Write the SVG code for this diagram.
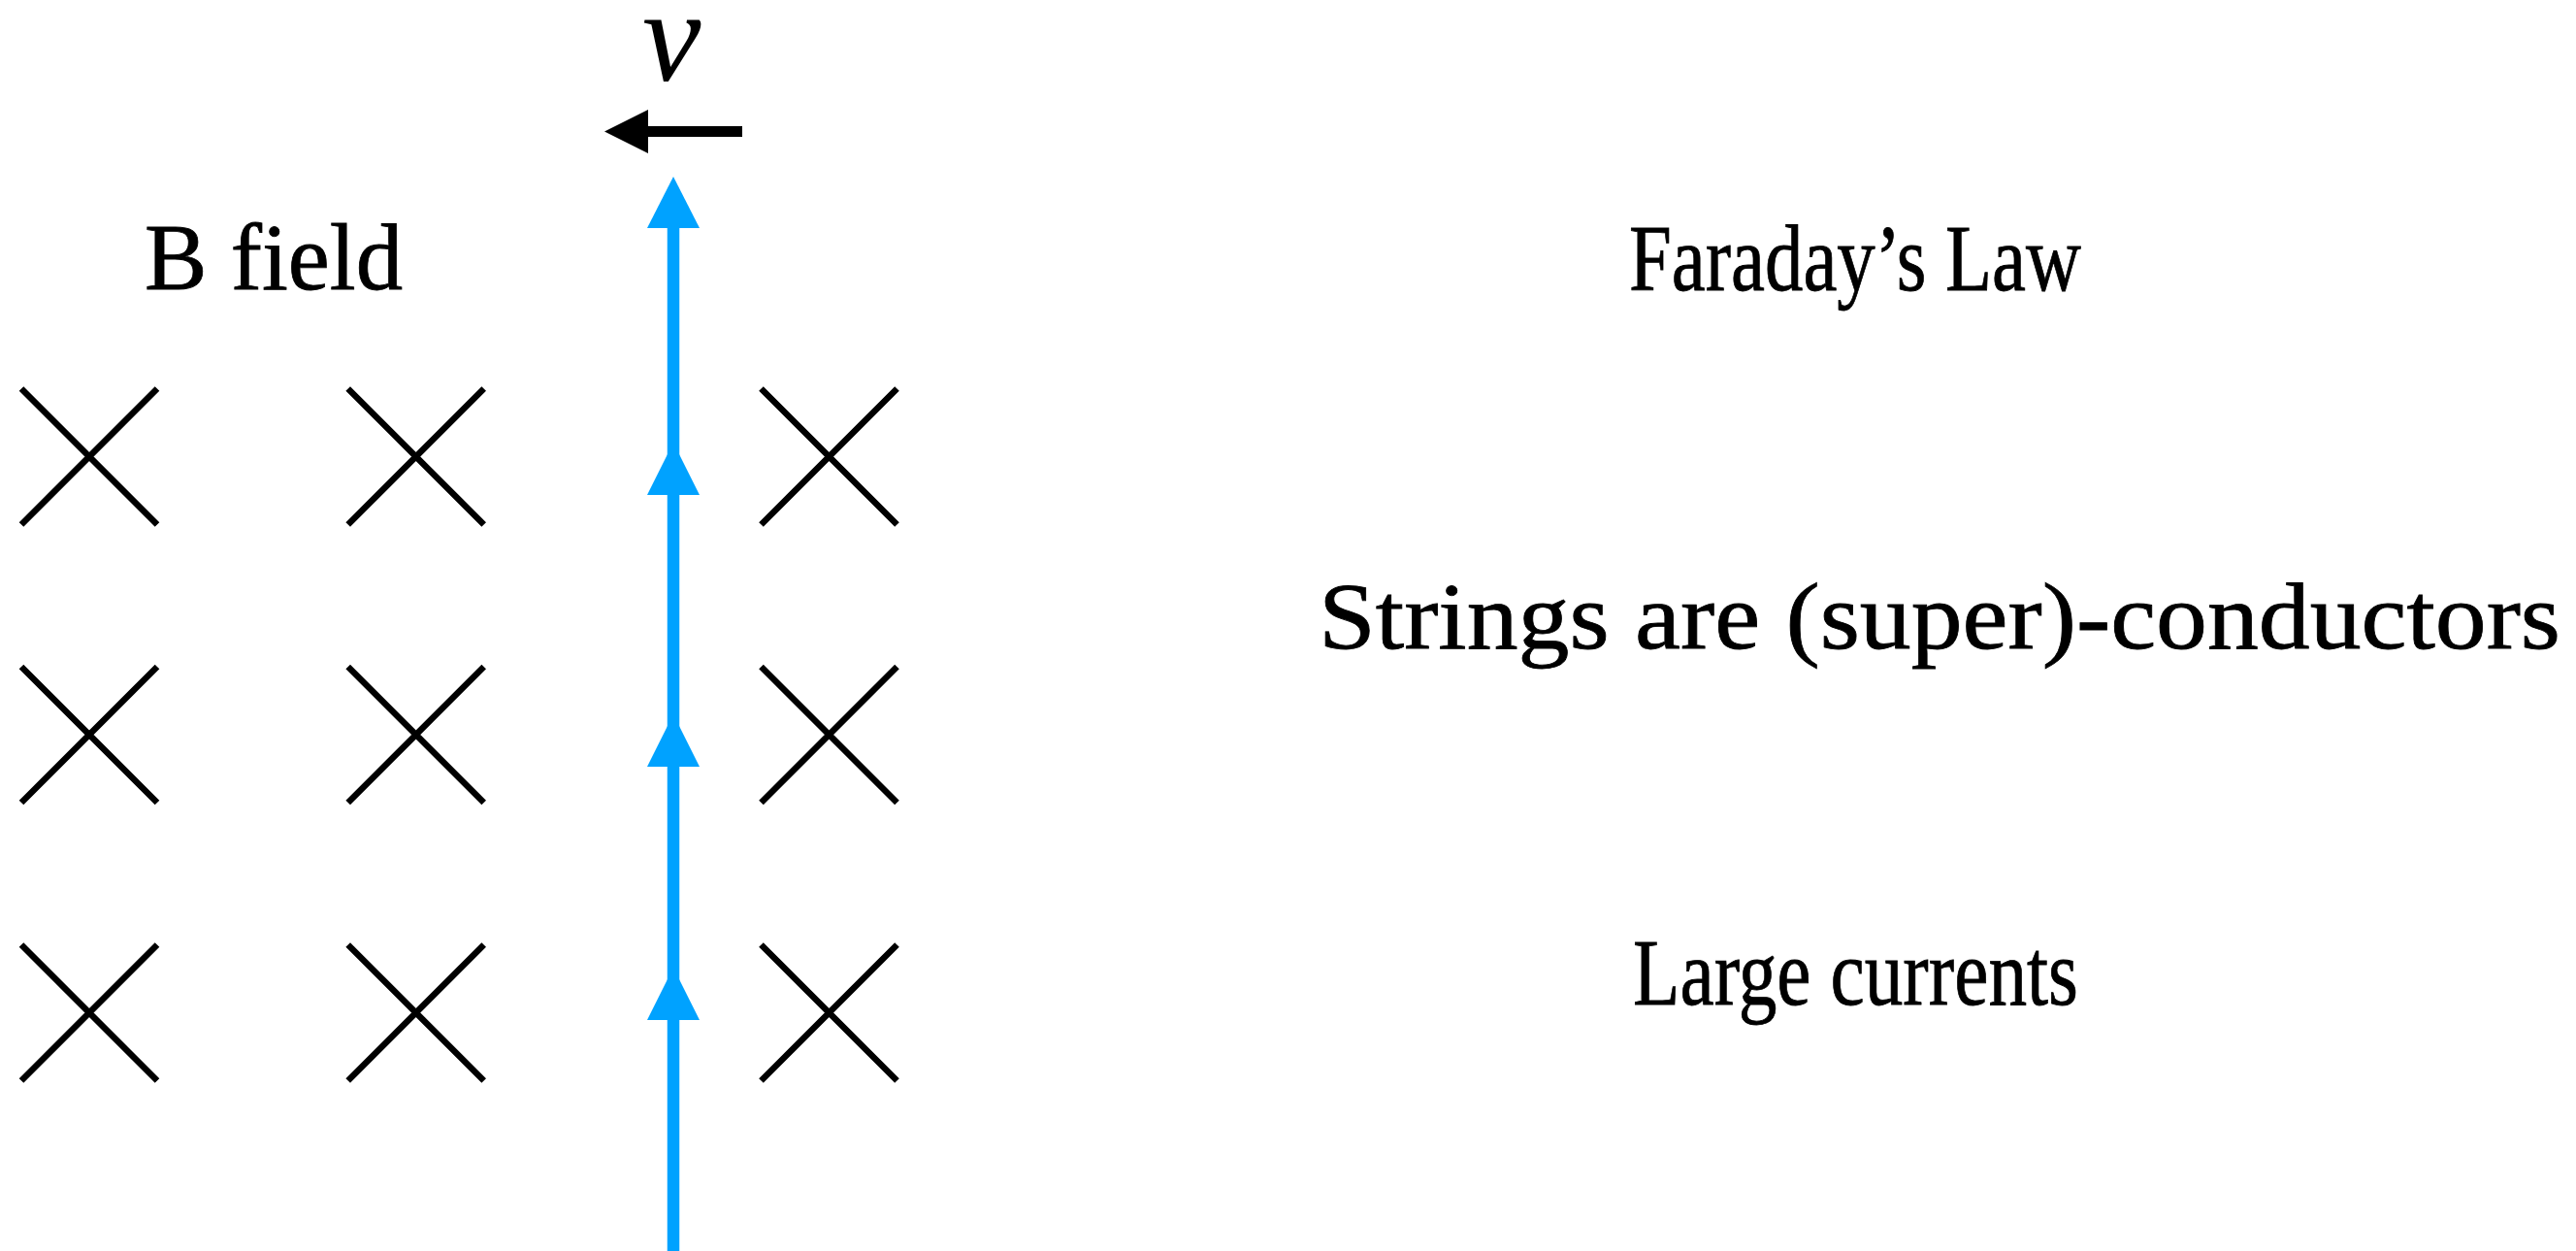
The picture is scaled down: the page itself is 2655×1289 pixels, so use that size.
<svg xmlns="http://www.w3.org/2000/svg" width="2655" height="1289" viewBox="0 0 2655 1289">
<style>
.lbl{font-family:"Liberation Serif","DejaVu Serif",serif;font-size:98px;fill:#000;stroke:#000;stroke-width:0.8}
.x{stroke:#000;stroke-width:6.5;fill:none}
.wire{stroke:#00A2FF;stroke-width:12.5;fill:none}
.head{fill:#00A2FF}
</style>
<defs>
<g id="cross"><path class="x" d="M-70,-70L70,70M70,-70L-70,70"/></g>
</defs>
<rect width="2655" height="1289" fill="#fff"/>
<g id="field">
<use href="#cross" x="92" y="470.5"/>
<use href="#cross" x="428.7" y="470.5"/>
<use href="#cross" x="854.5" y="470.5"/>
<use href="#cross" x="92" y="757"/>
<use href="#cross" x="428.7" y="757"/>
<use href="#cross" x="854.5" y="757"/>
<use href="#cross" x="92" y="1043.5"/>
<use href="#cross" x="428.7" y="1043.5"/>
<use href="#cross" x="854.5" y="1043.5"/>
</g>
<g id="connectors">
<line class="wire" x1="694" y1="1289" x2="694" y2="230"/>
<polygon class="head" points="694,182 667,235 721,235"/>
<polygon class="head" points="694,456 667,510 721,510"/>
<polygon class="head" points="694,736 667,790 721,790"/>
<polygon class="head" points="694,997 667,1051 721,1051"/>
<line x1="765" y1="135.5" x2="664" y2="135.5" stroke="#000" stroke-width="11"/>
<polygon points="623,135.5 668,113 668,158" fill="#000"/>
</g>
<g id="velocity"><text x="662" y="83" style="font-family:'Liberation Serif',serif;font-style:italic;font-size:136px">v</text></g>
<g id="bfield"><text class="lbl" x="149" y="298" textLength="266" lengthAdjust="spacingAndGlyphs">B field</text></g>
<g id="faraday"><text class="lbl" x="1679" y="299" textLength="466" lengthAdjust="spacingAndGlyphs">Faraday’s Law</text></g>
<g id="strings"><text class="lbl" x="1359" y="668" textLength="1280" lengthAdjust="spacingAndGlyphs">Strings are (super)-conductors</text></g>
<g id="currents"><text class="lbl" x="1683" y="1035" textLength="459" lengthAdjust="spacingAndGlyphs">Large currents</text></g>
</svg>
